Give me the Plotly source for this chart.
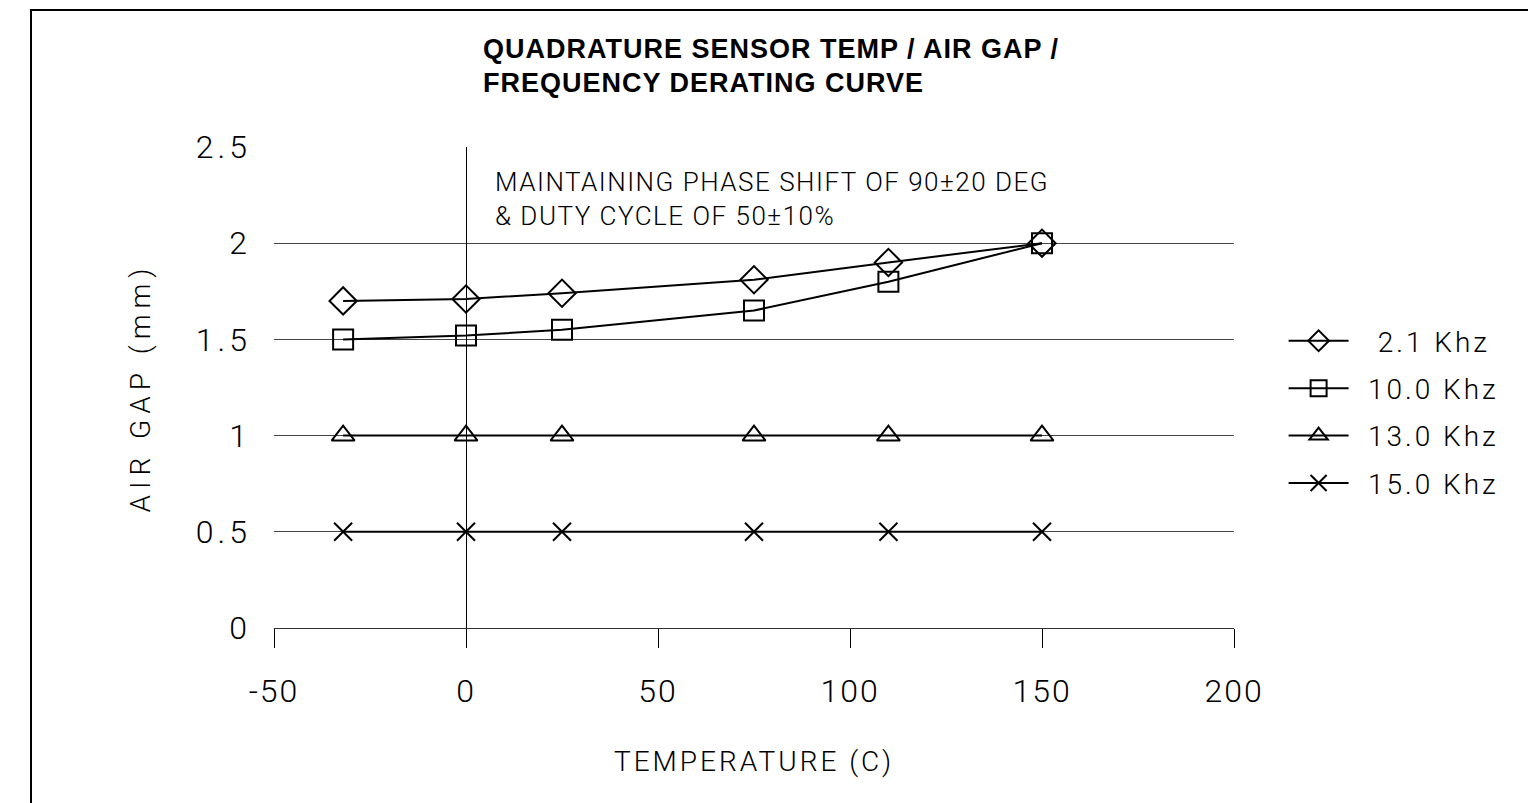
import plotly.graph_objects as go

temps = [-32, 0, 25, 75, 110, 150]
gap_2_1 = [1.70, 1.71, 1.74, 1.81, 1.90, 2.00]
gap_10_0 = [1.50, 1.52, 1.55, 1.65, 1.80, 2.00]
gap_13_0 = [1.0, 1.0, 1.0, 1.0, 1.0, 1.0]
gap_15_0 = [0.5, 0.5, 0.5, 0.5, 0.5, 0.5]
series_names = ["\u00a02.1 Khz", "10.0 Khz", "13.0 Khz", "15.0 Khz"]
series_symbols = ["diamond-open", "square-open", "triangle-up-open", "x-thin-open"]
series_sizes = [21, 20, 20, 18]
x_ticks = [-50, 0, 50, 100, 150, 200]
y_ticks = [0, 0.5, 1, 1.5, 2, 2.5]
y_ticktext = ["0", "0.5", "1", "1.5", "2", "2.5"]
title_lines = ["QUADRATURE SENSOR TEMP / AIR GAP /", "FREQUENCY DERATING CURVE"]
note_lines = ["MAINTAINING PHASE SHIFT OF 90±20 DEG", "& DUTY CYCLE OF 50±10%"]

FONT = "Roboto, Lato, DejaVu Sans, sans-serif"
TFONT = "Liberation Sans, Arial, sans-serif"
W, H = 1528, 795  # page body has an 8px margin

def sp(text, px):
    return f'<span style="letter-spacing:{px}px">{text}</span>'

fig = go.Figure()
for name, ys, sym, sz in zip(series_names, [gap_2_1, gap_10_0, gap_13_0, gap_15_0],
                             series_symbols, series_sizes):
    fig.add_trace(go.Scatter(
        x=temps, y=ys, mode="lines+markers", name="\u2002" + sp(name, 3),
        legendgroup=name,
        line=dict(color="black", width=2),
        marker=dict(symbol=sym, size=sz, color="black",
                    line=dict(color="black", width=2)),
    ))

title_annots = [
    dict(text=sp(t, 1), xref="paper", yref="paper",
         x=0.216, y=(H - 175 - (38 + i * 34 - 14)) / 481,
         xanchor="left", yanchor="top", align="left", showarrow=False,
         font=dict(family=TFONT, size=27, weight=700, color="black"))
    for i, t in enumerate(title_lines)
]

fig.update_layout(
    width=W, height=H,
    paper_bgcolor="white", plot_bgcolor="white",
    margin=dict(l=266, r=302, t=139, b=175),
    font=dict(family=FONT, color="black", size=28, weight=300),
    showlegend=True,
    legend=dict(
        x=1.06 - 8 / 960, xanchor="left", y=0.449, yanchor="middle",
        font=dict(family=FONT, size=28, weight=300, color="black"),
        tracegroupgap=8, bgcolor="rgba(0,0,0,0)", itemwidth=60,
    ),
    xaxis=dict(
        range=[-50, 200], tickmode="array", tickvals=x_ticks,
        ticktext=[sp(str(v), 2) for v in x_ticks],
        showgrid=False, zeroline=True, zerolinecolor="black", zerolinewidth=1,
        showline=True, linecolor="#333", linewidth=1,
        ticks="outside", ticklen=19, tickcolor="black", tickwidth=1,
        tickfont=dict(family=FONT, size=32, weight=300),
        ticklabelstandoff=16,
        title=dict(text=sp("TEMPERATURE (C)", 3), standoff=41,
                   font=dict(family=FONT, size=28, weight=300)),
    ),
    yaxis=dict(
        range=[0, 2.5], tickmode="array", tickvals=y_ticks,
        ticktext=[sp(t, 4) for t in y_ticktext],
        showgrid=True, gridcolor="#444", gridwidth=1,
        zeroline=False, showline=False, ticks="",
        tickfont=dict(family=FONT, size=32, weight=300),
        ticklabelstandoff=22,
        title=dict(text=sp("AIR GAP (mm)", 6), standoff=37,
                   font=dict(family=FONT, size=28, weight=300)),
    ),
    annotations=title_annots + [dict(
        text="<br>".join(sp(t, 1.5) for t in note_lines),
        xref="paper", yref="paper", x=0.228, y=0.962,
        xanchor="left", yanchor="top", align="left", showarrow=False,
        font=dict(family=FONT, size=26, weight=300, color="black"),
    )],
    shapes=[dict(
        type="rect", xref="paper", yref="paper",
        x0=(31 - 274) / 960, x1=1.35, y0=-0.40, y1=(628 - 10) / 481,
        line=dict(color="black", width=2), fillcolor="rgba(0,0,0,0)", layer="below",
    )],
)

fig.write_html("out.html")
